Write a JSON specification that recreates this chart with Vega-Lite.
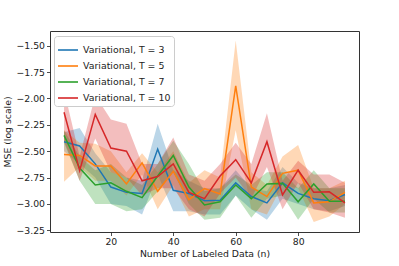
{
  "$schema": "https://vega.github.io/schema/vega-lite/v6.json",
  "width": 309,
  "height": 201,
  "autosize": {"type": "none"},
  "padding": {"left": 50, "top": 31, "right": 40, "bottom": 34},
  "background": "white",
  "config": {
    "font": "DejaVu Sans",
    "view": {"stroke": "#333333", "strokeWidth": 1},
    "axis": {
      "grid": false,
      "domain": false,
      "tickColor": "#222222",
      "tickSize": 3.5,
      "tickWidth": 0.8,
      "labelFontSize": 9.3,
      "labelColor": "#222222",
      "labelOverlap": false,
      "labelBound": false,
      "labelFlush": false,
      "titleFontSize": 9.3,
      "titleFontWeight": "normal",
      "titleColor": "#222222",
      "labelPadding": 2
    },
    "legend": {
      "labelFontSize": 9.4,
      "labelColor": "#222222",
      "labelLimit": 0
    }
  },
  "data": {
    "values": [
      {"n": 5, "s": "Variational, T = 3", "m": -2.41, "lo": -2.50, "hi": -2.32},
      {"n": 10, "s": "Variational, T = 3", "m": -2.45, "lo": -2.62, "hi": -2.28},
      {"n": 15, "s": "Variational, T = 3", "m": -2.62, "lo": -2.75, "hi": -2.52},
      {"n": 20, "s": "Variational, T = 3", "m": -2.84, "lo": -3.00, "hi": -2.70},
      {"n": 25, "s": "Variational, T = 3", "m": -2.89, "lo": -3.02, "hi": -2.75},
      {"n": 30, "s": "Variational, T = 3", "m": -2.90, "lo": -3.10, "hi": -2.78},
      {"n": 35, "s": "Variational, T = 3", "m": -2.48, "lo": -2.72, "hi": -2.24},
      {"n": 40, "s": "Variational, T = 3", "m": -2.87, "lo": -3.07, "hi": -2.68},
      {"n": 45, "s": "Variational, T = 3", "m": -2.90, "lo": -3.07, "hi": -2.78},
      {"n": 50, "s": "Variational, T = 3", "m": -2.97, "lo": -3.10, "hi": -2.85},
      {"n": 55, "s": "Variational, T = 3", "m": -2.965, "lo": -3.10, "hi": -2.85},
      {"n": 60, "s": "Variational, T = 3", "m": -2.80, "lo": -2.92, "hi": -2.68},
      {"n": 65, "s": "Variational, T = 3", "m": -2.93, "lo": -3.05, "hi": -2.85},
      {"n": 70, "s": "Variational, T = 3", "m": -2.99, "lo": -3.15, "hi": -2.88},
      {"n": 75, "s": "Variational, T = 3", "m": -2.80, "lo": -2.95, "hi": -2.65},
      {"n": 80, "s": "Variational, T = 3", "m": -2.90, "lo": -3.00, "hi": -2.80},
      {"n": 85, "s": "Variational, T = 3", "m": -2.95, "lo": -3.05, "hi": -2.85},
      {"n": 90, "s": "Variational, T = 3", "m": -2.97, "lo": -3.07, "hi": -2.85},
      {"n": 95, "s": "Variational, T = 3", "m": -2.91, "lo": -3.02, "hi": -2.82},

      {"n": 5, "s": "Variational, T = 5", "m": -2.53, "lo": -2.79, "hi": -2.30},
      {"n": 10, "s": "Variational, T = 5", "m": -2.54, "lo": -2.65, "hi": -2.42},
      {"n": 15, "s": "Variational, T = 5", "m": -2.64, "lo": -2.78, "hi": -2.43},
      {"n": 20, "s": "Variational, T = 5", "m": -2.64, "lo": -2.78, "hi": -2.50},
      {"n": 25, "s": "Variational, T = 5", "m": -2.81, "lo": -2.92, "hi": -2.70},
      {"n": 30, "s": "Variational, T = 5", "m": -2.61, "lo": -2.72, "hi": -2.52},
      {"n": 35, "s": "Variational, T = 5", "m": -2.88, "lo": -3.05, "hi": -2.70},
      {"n": 40, "s": "Variational, T = 5", "m": -2.69, "lo": -2.82, "hi": -2.50},
      {"n": 45, "s": "Variational, T = 5", "m": -2.96, "lo": -3.12, "hi": -2.80},
      {"n": 50, "s": "Variational, T = 5", "m": -2.855, "lo": -3.05, "hi": -2.68},
      {"n": 55, "s": "Variational, T = 5", "m": -2.905, "lo": -3.05, "hi": -2.75},
      {"n": 60, "s": "Variational, T = 5", "m": -1.88, "lo": -2.30, "hi": -1.45},
      {"n": 65, "s": "Variational, T = 5", "m": -2.84, "lo": -3.05, "hi": -2.70},
      {"n": 70, "s": "Variational, T = 5", "m": -2.93, "lo": -3.10, "hi": -2.82},
      {"n": 75, "s": "Variational, T = 5", "m": -2.71, "lo": -2.82, "hi": -2.55},
      {"n": 80, "s": "Variational, T = 5", "m": -2.68, "lo": -2.85, "hi": -2.44},
      {"n": 85, "s": "Variational, T = 5", "m": -2.99, "lo": -3.17, "hi": -2.85},
      {"n": 90, "s": "Variational, T = 5", "m": -2.98, "lo": -3.12, "hi": -2.85},
      {"n": 95, "s": "Variational, T = 5", "m": -2.89, "lo": -3.00, "hi": -2.78},

      {"n": 5, "s": "Variational, T = 7", "m": -2.35, "lo": -2.42, "hi": -2.30},
      {"n": 10, "s": "Variational, T = 7", "m": -2.66, "lo": -2.78, "hi": -2.55},
      {"n": 15, "s": "Variational, T = 7", "m": -2.82, "lo": -3.00, "hi": -2.68},
      {"n": 20, "s": "Variational, T = 7", "m": -2.80, "lo": -3.00, "hi": -2.62},
      {"n": 25, "s": "Variational, T = 7", "m": -2.88, "lo": -3.07, "hi": -2.75},
      {"n": 30, "s": "Variational, T = 7", "m": -2.94, "lo": -3.05, "hi": -2.82},
      {"n": 35, "s": "Variational, T = 7", "m": -2.735, "lo": -2.88, "hi": -2.62},
      {"n": 40, "s": "Variational, T = 7", "m": -2.54, "lo": -2.70, "hi": -2.40},
      {"n": 45, "s": "Variational, T = 7", "m": -2.84, "lo": -3.00, "hi": -2.62},
      {"n": 50, "s": "Variational, T = 7", "m": -3.01, "lo": -3.15, "hi": -2.88},
      {"n": 55, "s": "Variational, T = 7", "m": -2.98, "lo": -3.13, "hi": -2.85},
      {"n": 60, "s": "Variational, T = 7", "m": -2.82, "lo": -2.92, "hi": -2.72},
      {"n": 65, "s": "Variational, T = 7", "m": -2.95, "lo": -3.13, "hi": -2.82},
      {"n": 70, "s": "Variational, T = 7", "m": -2.81, "lo": -2.95, "hi": -2.70},
      {"n": 75, "s": "Variational, T = 7", "m": -2.805, "lo": -2.92, "hi": -2.70},
      {"n": 80, "s": "Variational, T = 7", "m": -2.98, "lo": -3.15, "hi": -2.85},
      {"n": 85, "s": "Variational, T = 7", "m": -2.81, "lo": -2.95, "hi": -2.68},
      {"n": 90, "s": "Variational, T = 7", "m": -2.975, "lo": -3.08, "hi": -2.85},
      {"n": 95, "s": "Variational, T = 7", "m": -2.975, "lo": -3.08, "hi": -2.85},

      {"n": 5, "s": "Variational, T = 10", "m": -2.13, "lo": -2.40, "hi": -1.92},
      {"n": 10, "s": "Variational, T = 10", "m": -2.685, "lo": -2.78, "hi": -2.55},
      {"n": 15, "s": "Variational, T = 10", "m": -2.15, "lo": -2.38, "hi": -1.97},
      {"n": 20, "s": "Variational, T = 10", "m": -2.47, "lo": -2.70, "hi": -2.20},
      {"n": 25, "s": "Variational, T = 10", "m": -2.50, "lo": -2.75, "hi": -2.24},
      {"n": 30, "s": "Variational, T = 10", "m": -2.78, "lo": -2.92, "hi": -2.62},
      {"n": 35, "s": "Variational, T = 10", "m": -2.74, "lo": -2.85, "hi": -2.62},
      {"n": 40, "s": "Variational, T = 10", "m": -2.62, "lo": -2.85, "hi": -2.37},
      {"n": 45, "s": "Variational, T = 10", "m": -2.89, "lo": -3.05, "hi": -2.72},
      {"n": 50, "s": "Variational, T = 10", "m": -2.95, "lo": -3.12, "hi": -2.78},
      {"n": 55, "s": "Variational, T = 10", "m": -2.735, "lo": -2.90, "hi": -2.62},
      {"n": 60, "s": "Variational, T = 10", "m": -2.58, "lo": -2.75, "hi": -2.42},
      {"n": 65, "s": "Variational, T = 10", "m": -2.80, "lo": -2.95, "hi": -2.62},
      {"n": 70, "s": "Variational, T = 10", "m": -2.41, "lo": -2.65, "hi": -2.14},
      {"n": 75, "s": "Variational, T = 10", "m": -2.915, "lo": -3.05, "hi": -2.78},
      {"n": 80, "s": "Variational, T = 10", "m": -2.68, "lo": -2.80, "hi": -2.59},
      {"n": 85, "s": "Variational, T = 10", "m": -2.89, "lo": -3.05, "hi": -2.72},
      {"n": 90, "s": "Variational, T = 10", "m": -2.885, "lo": -3.08, "hi": -2.72},
      {"n": 95, "s": "Variational, T = 10", "m": -2.99, "lo": -3.13, "hi": -2.80}
    ]
  },
  "encoding": {
    "color": {
      "field": "s", "type": "nominal",
      "scale": {
        "domain": ["Variational, T = 3", "Variational, T = 5", "Variational, T = 7", "Variational, T = 10"],
        "range": ["#1f77b4", "#ff7f0e", "#2ca02c", "#d62728"]
      },
      "legend": {
        "title": null,
        "orient": "none",
        "legendX": 4,
        "legendY": 5,
        "symbolType": "stroke",
        "symbolSize": 400,
        "symbolStrokeWidth": 1.6,
        "symbolOpacity": 1,
        "symbolFillColor": "transparent",
        "strokeColor": "#cccccc",
        "fillColor": "white",
        "cornerRadius": 3,
        "padding": 3,
        "rowPadding": -6,
        "labelOffset": 4
      }
    }
  },
  "layer": [
    {
      "mark": {"type": "area", "opacity": 0.3},
      "encoding": {
        "x": {
          "field": "n", "type": "quantitative",
          "scale": {"domain": [0.5, 99.5], "nice": false, "zero": false},
          "axis": {"values": [20, 40, 60, 80], "tickCount": 10, "title": "Number of Labeled Data (n)", "titlePadding": 3}
        },
        "y": {
          "field": "lo", "type": "quantitative",
          "scale": {"domain": [-3.266, -1.36], "nice": false, "zero": false},
          "axis": {"values": [-3.25, -3, -2.75, -2.5, -2.25, -2, -1.75, -1.5], "tickCount": 10, "format": ".2f", "labelOverlap": false, "title": "MSE (log scale)", "titlePadding": 4}
        },
        "y2": {"field": "hi"}
      }
    },
    {
      "mark": {"type": "line", "strokeWidth": 1.5},
      "encoding": {
        "x": {"field": "n", "type": "quantitative"},
        "y": {"field": "m", "type": "quantitative"}
      }
    }
  ]
}
